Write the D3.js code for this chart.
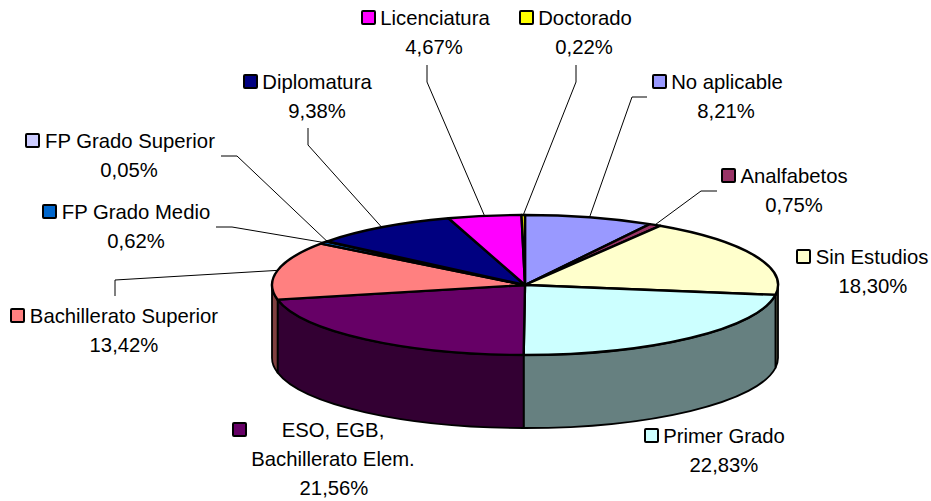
<!DOCTYPE html>
<html><head><meta charset="utf-8">
<script src="https://cdn.jsdelivr.net/npm/d3@7"></script>
<style>html,body{margin:0;background:#fff}svg{display:block}text{font-family:"Liberation Sans",Arial,sans-serif;font-size:20.3px;fill:#000}</style>
</head><body><svg id="c" width="931" height="501"></svg>
<script>
const categories=["No aplicable","Analfabetos","Sin Estudios","Primer Grado","ESO, EGB,|Bachillerato Elem.","Bachillerato Superior","FP Grado Medio","FP Grado Superior","Diplomatura","Licenciatura","Doctorado"];
const values=[8.21,0.75,18.30,22.83,21.56,13.42,0.62,0.05,9.38,4.67,0.22];
const valueLabels=["8,21%","0,75%","18,30%","22,83%","21,56%","13,42%","0,62%","0,05%","9,38%","4,67%","0,22%"];
const topColors=["#9999FF","#993366","#FFFFCC","#CCFFFF","#660066","#FF8080","#0066CC","#CCCCFF","#000080","#FF00FF","#FFFF00"];
const sideColors=["#666699","#4D1A33","#808066","#668080","#330033","#804040","#003366","#666680","#000040","#800080","#808000"];
// layout: name centre x, value centre x, first baseline y, key left x, leader points (ending at the rim)
const nameX=[727,794,872,724,333,124,136,130,317,435,585];
const valueX=[726,794,873,724,334,124,136,129,317,434,584];
const labelY=[89,183,264,443,437,323,219,148,89,25,25];
const keyX=[652,721,796,644,232,10,42,25,243,361,519];
const leaders=[[[647,97],[632,97]],[[717,191],[701,191]],null,null,null,[[115,296],[115,280]],[[216,227],[232,227]],[[221,156],[237,156]],[[308,128],[308,145]],[[427,65],[427,82]],[[576,65],[576,82]]];

const W=931,H=501,cx=525,cy=285,rx=253,ry=70,depth=73;
const svg=d3.select("#c");
const pie=d3.pie().sort(null).value(d=>d)(values);
const px=a=>cx+rx*Math.sin(a), py=a=>cy-ry*Math.cos(a);
const H90=Math.PI/2, H270=3*Math.PI/2;

// side walls (front half only)
const sides=pie.map((p,i)=>({a0:Math.max(p.startAngle,H90),a1:Math.min(p.endAngle,H270),i})).filter(d=>d.a1>d.a0);
svg.append("g").selectAll("path").data(sides).join("path")
 .attr("d",d=>`M${px(d.a0)},${py(d.a0)}A${rx},${ry} 0 0 1 ${px(d.a1)},${py(d.a1)}L${px(d.a1)},${py(d.a1)+depth}A${rx},${ry} 0 0 0 ${px(d.a0)},${py(d.a0)+depth}Z`)
 .attr("fill",d=>sideColors[d.i]).attr("stroke","#000").attr("stroke-width",1.8).attr("stroke-linejoin","round");

// top slices
svg.append("g").selectAll("path").data(pie).join("path")
 .attr("d",p=>{const large=p.endAngle-p.startAngle>Math.PI?1:0;
   return `M${cx},${cy}L${px(p.startAngle)},${py(p.startAngle)}A${rx},${ry} 0 ${large} 1 ${px(p.endAngle)},${py(p.endAngle)}Z`;})
 .attr("fill",(p,i)=>topColors[i]).attr("stroke","#000").attr("stroke-width",2.4).attr("stroke-linejoin","round");

// leaders
const line=d3.line();
svg.append("g").selectAll("path").data(pie.map((p,i)=>({p,i})).filter(d=>leaders[d.i])).join("path")
 .attr("d",d=>{const m=(d.p.startAngle+d.p.endAngle)/2;return line([...leaders[d.i],[px(m),py(m)]]);})
 .attr("fill","none").attr("stroke","#000").attr("stroke-width",1);

// labels
const lab=svg.append("g").selectAll("g").data(categories).join("g");
lab.each(function(c,i){
  const g=d3.select(this),names=c.split("|");
  names.forEach((t,k)=>g.append("text").attr("x",nameX[i]).attr("y",labelY[i]+k*29).attr("text-anchor","middle").text(t));
  g.append("text").attr("x",valueX[i]).attr("y",labelY[i]+names.length*29).attr("text-anchor","middle").text(valueLabels[i]);
  g.append("rect").attr("x",keyX[i]+1).attr("y",labelY[i]-14).attr("width",13).attr("height",13).attr("rx",1)
   .attr("fill",topColors[i]).attr("stroke","#000").attr("stroke-width",2);
});
</script></body></html>
